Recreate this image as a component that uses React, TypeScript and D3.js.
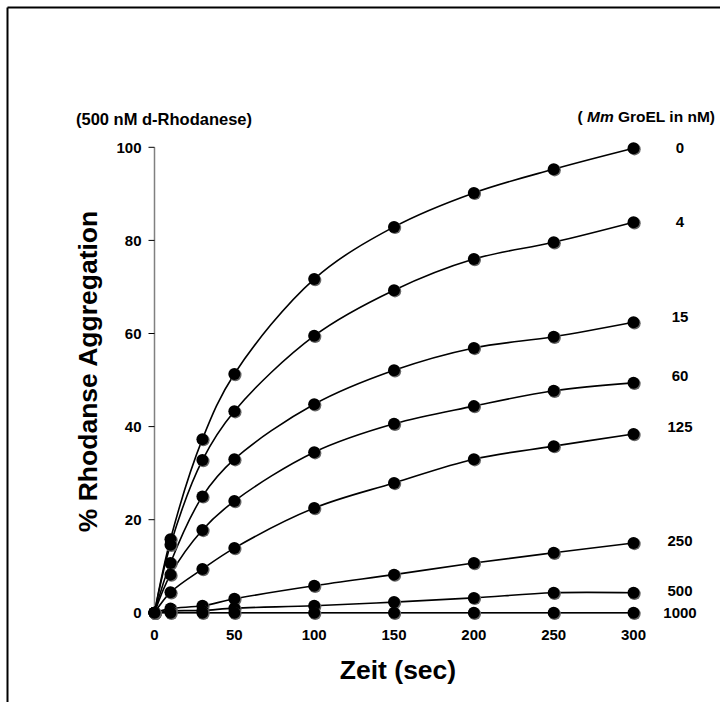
import React from "react";
import * as d3 from "d3";

// time points (sec)
const times = [0, 10, 30, 50, 100, 150, 200, 250, 300];

// Mm GroEL concentrations (nM) and aggregation curves (%)
const groelLabels = ["0", "4", "15", "60", "125", "250", "500", "1000"];
const s0 = [0, 15.8, 37.3, 51.3, 71.7, 82.9, 90.2, 95.3, 99.8];
const s4 = [0, 14.6, 32.8, 43.3, 59.5, 69.3, 76, 79.6, 83.9];
const s15 = [0, 10.7, 25, 33, 44.8, 52.1, 56.9, 59.3, 62.4];
const s60 = [0, 8.2, 17.8, 24, 34.5, 40.6, 44.4, 47.7, 49.4];
const s125 = [0, 4.4, 9.4, 13.9, 22.5, 27.9, 33, 35.8, 38.4];
const s250 = [0, 0.9, 1.5, 3, 5.8, 8.2, 10.7, 12.9, 15];
const s500 = [0, 0.4, 0.5, 1, 1.5, 2.3, 3.2, 4.3, 4.3];
const s1000 = [0, 0, 0, 0, 0, 0, 0, 0, 0];
const seriesValues = [s0, s4, s15, s60, s125, s250, s500, s1000];

// label positions (value at which the right-hand label sits)
const labelValues = [100, 84, 63.5, 51, 40, 15.5, 4.8, 0];

const xTicks = [0, 50, 100, 150, 200, 250, 300];
const yTicks = [0, 20, 40, 60, 80, 100];

const font = "Arial, 'Liberation Sans', Helvetica, sans-serif";

export default function App() {
  const width = 720;
  const height = 702;

  const x = d3.scaleLinear().domain([0, 300]).range([154.5, 633.5]);
  const y = d3.scaleLinear().domain([0, 100]).range([612.8, 147.3]);

  const line = d3
    .line<[number, number]>()
    .x((d) => x(d[0]))
    .y((d) => y(d[1]))
    .curve(d3.curveCatmullRom.alpha(0.5));

  return (
    <svg
      width={width}
      height={height}
      style={{ position: "absolute", left: 0, top: 0, background: "#fff" }}
      fontFamily={font}
    >
      {/* outer frame (clipped by window) */}
      <line x1={7.5} y1={7.5} x2={720} y2={7.5} stroke="#000" strokeWidth={2} />
      <line x1={7.5} y1={7.5} x2={7.5} y2={702} stroke="#000" strokeWidth={2} />

      {/* y axis */}
      <line x1={x(0)} y1={y(100)} x2={x(0)} y2={y(0)} stroke="#808080" strokeWidth={1.5} />
      {yTicks.map((t) => (
        <g key={"y" + t}>
          <line x1={x(0) - 6} x2={x(0)} y1={y(t)} y2={y(t)} stroke="#000" strokeWidth={1} />
          <text
            x={x(0) - 13}
            y={y(t)}
            dy="0.35em"
            textAnchor="end"
            fontSize={15}
            fontWeight="bold"
          >
            {t}
          </text>
        </g>
      ))}

      {/* x axis */}
      <line x1={x(0)} y1={y(0)} x2={x(300)} y2={y(0)} stroke="#808080" strokeWidth={1.5} />
      {xTicks.map((t) => (
        <text
          key={"x" + t}
          x={x(t)}
          y={y(0) + 22}
          dy="0.35em"
          textAnchor="middle"
          fontSize={15}
          fontWeight="bold"
        >
          {t}
        </text>
      ))}

      {/* curves */}
      {seriesValues.map((vals, i) => (
        <path
          key={"l" + i}
          d={line(vals.map((v, j) => [times[j], v] as [number, number])) || ""}
          fill="none"
          stroke="#000"
          strokeWidth={1.6}
        />
      ))}

      {/* markers */}
      {seriesValues.map((vals, i) => (
        <g key={"m" + i}>
          {vals.map((v, j) => (
            <g key={j}>
              <circle cx={x(times[j]) + 1} cy={y(v) + 1} r={6.2} fill="#666" />
              <circle cx={x(times[j])} cy={y(v)} r={6} fill="#000" />
            </g>
          ))}
        </g>
      ))}

      {/* series labels */}
      {groelLabels.map((lab, i) => (
        <text
          key={"t" + lab}
          x={680}
          y={y(labelValues[i])}
          dy="0.35em"
          textAnchor="middle"
          fontSize={15}
          fontWeight="bold"
        >
          {lab}
        </text>
      ))}

      {/* annotations */}
      <text x={76} y={119} dy="0.35em" fontSize={16.5} fontWeight="bold">
        (500 nM d-Rhodanese)
      </text>
      <text x={715} y={117} dy="0.35em" textAnchor="end" fontSize={15.5} fontWeight="bold">
        (<tspan fontStyle="italic"> Mm</tspan> GroEL in nM)
      </text>

      {/* axis titles */}
      <text
        x={398}
        y={670}
        dy="0.35em"
        textAnchor="middle"
        fontSize={26.5}
        fontWeight="bold"
      >
        Zeit (sec)
      </text>
      <text
        transform={`translate(88,${(210 + 533) / 2}) rotate(-90)`}
        dy="0.35em"
        textAnchor="middle"
        fontSize={26.5}
        fontWeight="bold"
      >
        % Rhodanse Aggregation
      </text>
    </svg>
  );
}
